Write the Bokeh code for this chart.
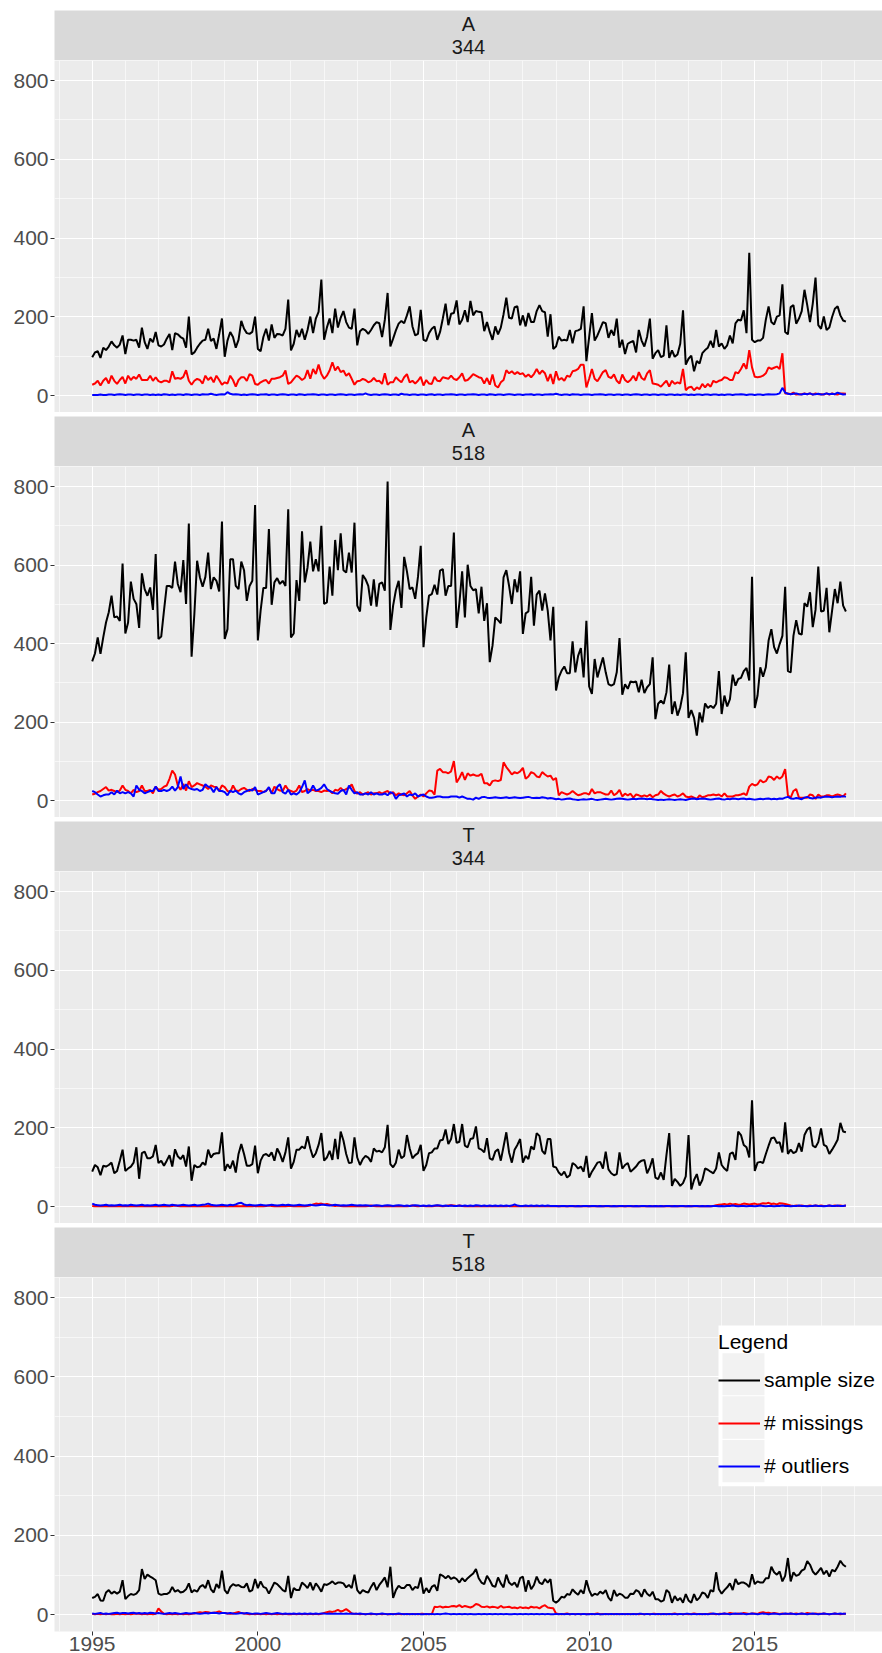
import numpy as np
from bokeh.plotting import figure
from bokeh.layouts import column
from bokeh.models import (Range1d, FixedTicker, Label, Legend, LegendItem,
                          BoxAnnotation, Spacer, Grid, LinearAxis)
from bokeh.embed import file_html
from bokeh.resources import INLINE

START_YEAR = 1995
FONT = "Liberation Sans"

# ---------------- data (monthly, starting Jan 1995) ----------------
facet_rows = ["A", "A", "T", "T"]
facet_ids = ["344", "518", "344", "518"]
series_labels = ["sample size", "# missings", "# outliers"]
x_tick_years = [1995, 2000, 2005, 2010, 2015]
y_ticks = [0, 200, 400, 600, 800]

a344_size = [
    98, 110, 113, 96, 122, 116, 125, 138, 128, 122, 130, 153,
    106, 142, 142, 140, 142, 122, 173, 136, 119, 145, 136, 162,
    128, 125, 130, 145, 157, 116, 159, 156, 149, 145, 122, 201,
    105, 110, 122, 132, 140, 142, 170, 139, 145, 119, 156, 196,
    99, 140, 162, 149, 122, 142, 190, 170, 159, 157, 162, 201,
    119, 113, 149, 170, 140, 181, 147, 157, 156, 153, 170, 244,
    115, 132, 167, 149, 170, 142, 167, 201, 159, 196, 213, 295,
    142, 173, 196, 159, 221, 173, 198, 215, 187, 173, 170, 221,
    128, 164, 170, 166, 157, 167, 179, 187, 184, 149, 193, 261,
    125, 145, 166, 183, 190, 184, 204, 227, 176, 153, 157, 218,
    142, 139, 159, 170, 176, 142, 162, 196, 234, 179, 208, 210,
    242, 181, 193, 217, 187, 241, 204, 215, 213,
    212, 164, 187, 162, 142, 176, 156, 173, 207, 249,
    198, 196, 225, 227, 179, 204, 176, 210, 187, 187,
    215, 230, 215, 212, 150, 207, 119, 125, 150, 140,
    142, 140, 167, 133, 164, 166, 170, 227, 88, 149,
    210, 140, 153, 170, 187, 184, 147, 167, 153, 196,
    122, 142, 106, 132, 136, 139, 110, 167, 140, 125,
    150, 196, 94, 108, 116, 98, 102, 179, 96, 115,
    99, 105, 132, 217, 79, 94, 102, 62, 88, 82,
    108, 116, 122, 139, 122, 167, 125, 133, 119, 128,
    153, 133, 184, 193, 191, 217, 159, 363, 142, 136,
    140, 140, 147, 193, 227, 187, 181, 201, 204, 283,
    162, 156, 225, 230, 183, 196, 215, 269, 230, 187,
    234, 300, 179, 170, 201, 167, 173, 200, 221, 227,
    204, 191, 188,
]
a344_missing = [
    28, 31, 38, 26, 38, 45, 31, 51, 38, 30, 40, 48,
    31, 51, 40, 48, 43, 54, 40, 40, 40, 51, 38, 47,
    37, 34, 38, 38, 34, 62, 43, 45, 43, 48, 65, 38,
    28, 38, 43, 40, 31, 51, 40, 47, 34, 51, 40, 28,
    34, 31, 51, 40, 23, 40, 47, 47, 38, 55, 51, 30,
    28, 34, 38, 40, 31, 43, 43, 45, 47, 51, 64, 30,
    34, 43, 51, 47, 40, 45, 65, 43, 68, 55, 79, 55,
    43, 51, 64, 85, 64, 74, 60, 64, 51, 57, 43, 28,
    37, 38, 43, 40, 34, 37, 45, 37, 38, 30, 57, 28,
    34, 34, 47, 40, 34, 47, 55, 34, 38, 31, 38, 48,
    26, 40, 31, 30, 48, 38, 37, 47, 45, 43, 51, 43,
    40, 47, 57, 38, 40, 47, 55, 51, 47,
    45, 31, 45, 28, 54, 26, 21, 34, 40, 65,
    57, 62, 55, 60, 55, 57, 48, 54, 47, 55,
    68, 55, 64, 57, 37, 55, 30, 62, 40, 45,
    38, 51, 48, 62, 64, 68, 79, 79, 21, 43,
    68, 43, 37, 48, 60, 65, 48, 45, 54, 38,
    31, 54, 40, 34, 40, 51, 38, 60, 45, 40,
    57, 65, 31, 30, 28, 23, 31, 38, 23, 38,
    30, 34, 31, 68, 14, 21, 23, 14, 21, 17,
    30, 21, 30, 23, 38, 34, 38, 40, 47, 45,
    40, 40, 60, 57, 68, 82, 68, 116, 72, 48,
    47, 48, 51, 57, 72, 68, 71, 74, 68, 108,
    6, 6, 4, 8, 3, 4, 4, 6, 4, 6,
    3, 6, 4, 4, 3, 6, 3, 6, 4, 3,
    6, 6, 5,
]
a344_outlier = [
    2, 2, 2, 3, 2, 2, 3, 3, 2, 3, 4, 3,
    2, 3, 3, 2, 3, 3, 2, 3, 3, 2, 3, 2,
    3, 2, 4, 3, 2, 3, 2, 3, 3, 2, 4, 3,
    2, 3, 3, 2, 4, 3, 3, 5, 3, 2, 3, 4,
    3, 9, 5, 3, 4, 3, 2, 3, 2, 3, 4, 3,
    2, 3, 3, 4, 2, 3, 3, 2, 3, 4, 3, 2,
    3, 3, 2, 4, 3, 2, 3, 3, 4, 3, 2, 3,
    3, 2, 3, 3, 2, 3, 4, 3, 2, 3, 3, 2,
    3, 4, 3, 6, 3, 2, 3, 3, 2, 3, 4, 3,
    2, 3, 3, 2, 5, 3, 3, 2, 3, 3, 2, 3,
    3, 2, 3, 4, 2, 3, 3, 2, 3, 3, 4, 3,
    2, 3, 3, 2, 3, 3, 4, 3, 2, 3, 3, 2,
    4, 3, 2, 3, 3, 2, 3, 4, 3, 2, 3, 3,
    2, 3, 3, 4, 2, 3, 3, 2, 3, 3, 4, 3,
    5, 3, 2, 3, 3, 2, 4, 3, 3, 2, 3, 3,
    3, 2, 3, 3, 4, 3, 2, 3, 3, 2, 3, 3,
    2, 3, 3, 2, 3, 4, 3, 2, 3, 3, 2, 3,
    3, 2, 3, 3, 2, 3, 3, 2, 3, 2, 3, 3,
    2, 3, 2, 3, 3, 2, 3, 3, 2, 3, 3, 2,
    3, 2, 3, 3, 2, 3, 3, 4, 3, 2, 3, 3,
    2, 3, 3, 2, 3, 4, 3, 3, 4, 6, 20, 8,
    5, 4, 5, 6, 4, 3, 5, 4, 6, 3, 4, 5,
    3, 4, 6, 4, 5, 4, 8, 5, 3, 4,
]

a518_size = [
    355, 375, 416, 374, 416, 454, 480, 522, 467, 469, 458, 604,
    426, 454, 558, 514, 501, 440, 579, 539, 522, 543, 486, 628,
    412, 418, 484, 547, 547, 542, 609, 552, 531, 613, 501, 706,
    367, 475, 611, 569, 545, 570, 632, 539, 569, 560, 533, 711,
    412, 437, 615, 615, 547, 539, 609, 587, 509, 547, 560, 753,
    408, 484, 542, 542, 692, 499, 556, 567, 552, 560, 547, 742,
    416, 426, 562, 509, 686, 556, 594, 660, 584, 615, 584, 700,
    501, 505, 596, 522, 664, 587, 681, 587, 581, 632, 581, 708,
    497, 482, 575, 564, 547, 497, 564, 494, 552, 556, 535, 813,
    435, 497, 536, 560, 491, 621, 584, 539, 543, 514, 570, 649,
    391, 467, 522, 526, 550, 525, 586, 590, 522, 547, 547, 683,
    440, 503, 584, 467, 601, 547, 536, 539, 477,
    545, 458, 503, 353, 395, 467, 460, 452, 569, 587,
    547, 501, 564, 531, 584, 425, 477, 482, 570, 446,
    525, 535, 484, 528, 484, 408, 494, 281, 314, 331,
    342, 325, 325, 406, 327, 369, 389, 314, 458, 291,
    272, 361, 314, 340, 365, 327, 297, 293, 297, 327,
    414, 270, 297, 285, 304, 302, 304, 276, 308, 274,
    289, 297, 365, 208, 247, 255, 247, 276, 347, 221,
    253, 217, 238, 274, 378, 211, 231, 211, 166, 225,
    200, 248, 236, 242, 236, 247, 330, 221, 268, 240,
    259, 321, 293, 310, 313, 330, 338, 306, 570, 236,
    268, 340, 316, 340, 408, 437, 391, 375, 399, 420,
    545, 330, 327, 420, 460, 426, 423, 503, 494, 531,
    442, 486, 596, 482, 484, 542, 429, 484, 539, 503,
    558, 497, 482,
]
a518_missing = [
    16, 18, 22, 25, 30, 35, 26, 28, 25, 22, 26, 39,
    28, 25, 19, 28, 22, 25, 39, 25, 25, 28, 19, 36,
    28, 30, 36, 39, 56, 77, 67, 39, 28, 43, 26, 50,
    35, 39, 45, 42, 39, 36, 30, 39, 36, 35, 25, 39,
    35, 25, 22, 39, 26, 25, 30, 33, 28, 25, 30, 28,
    25, 25, 22, 26, 33, 19, 36, 30, 26, 25, 39, 28,
    25, 22, 26, 39, 22, 25, 30, 26, 28, 25, 25,
    22, 26, 25, 26, 19, 28, 26, 33, 26, 30, 33,
    42, 25, 18, 22, 16, 19, 22, 16, 19, 19, 22,
    18, 22, 25, 18, 22, 14, 19, 16, 14, 19, 25,
    14, 5, 11, 16, 11, 19, 26, 25, 16, 77, 81, 73,
    73, 70, 75, 101, 47, 58, 73, 53, 70, 64, 67, 64, 64,
    69, 45, 45, 39, 50, 52, 50, 53, 98, 86,
    77, 67, 73, 70, 75, 84, 56, 62, 73, 70,
    62, 60, 73, 67, 62, 64, 53, 58, 14, 22,
    19, 16, 19, 25, 19, 14, 16, 19, 19, 16,
    30, 19, 22, 22, 19, 16, 16, 26, 14,
    19, 28, 11, 18, 14, 18, 8, 16, 14,
    11, 14, 11, 16, 9, 14, 16, 25, 18,
    14, 11, 14, 16, 11, 14, 19, 11, 9,
    11, 8, 5, 14, 9, 11, 14, 14, 16, 14,
    16, 11, 19, 11, 11, 11, 14, 14, 16, 19,
    14, 36, 43, 39, 42, 53, 47, 50, 62, 60,
    53, 62, 56, 62, 81, 14, 8, 25, 30, 8,
    8, 8, 8, 16, 14, 5, 16, 11, 11, 14,
    14, 11, 14, 16, 14, 11, 19,
]
a518_outlier = [
    25, 22, 16, 11, 14, 16, 16, 22, 16, 26, 19, 22,
    19, 22, 19, 11, 39, 28, 25, 19, 22, 25, 25, 36,
    25, 25, 28, 25, 28, 36, 26, 35, 62, 30, 42, 33,
    30, 28, 30, 25, 28, 42, 36, 33, 22, 35, 25, 25,
    22, 14, 26, 22, 26, 19, 16, 22, 25, 28, 26, 35,
    16, 19, 22, 25, 35, 19, 19, 35, 42, 22, 18, 28,
    16, 19, 16, 22, 35, 52, 19, 25, 39, 26, 28, 33,
    42, 30, 25, 22, 19, 18, 25, 28, 16, 39, 28, 19,
    22, 16, 16, 19, 16, 22, 16, 19, 16, 16, 19, 14,
    22, 19, 5, 14, 16, 19, 11, 16, 14, 19, 11, 14,
    16, 11, 8, 8, 9, 11, 11, 9, 9, 9, 11, 11,
    11, 8, 11, 8, 5, 5, 3, 8, 5,
    9, 10, 8,
    7, 8, 9, 8, 7, 8, 9, 7, 8, 9, 8, 7,
    8, 9, 10, 8, 7, 8, 7, 9, 8, 6, 7, 6,
    4, 5, 3, 4, 5, 6, 4, 3, 2, 3, 4, 3,
    4, 5, 3, 2, 3, 4, 5, 4, 3, 4, 5, 6,
    5, 4, 3, 4, 5, 4, 5, 6, 5, 4, 5, 4,
    3, 2, 3, 2, 3, 4, 3, 2, 3, 4, 3, 2,
    4, 5, 6, 4, 5, 6, 5, 4, 3, 4, 5, 6,
    4, 3, 5, 4, 6, 5, 4, 5, 6, 4, 5, 4,
    3, 4, 5, 4, 5, 6, 4, 5, 4, 6, 5, 8,
    10, 6, 5, 7, 6, 4, 8, 10, 7, 6, 8, 9,
    8, 10, 11, 10, 9, 10, 11, 10, 12, 10,
]

t344_size = [
    89, 106, 100, 80, 104, 102, 106, 112, 85, 91, 117, 145,
    91, 97, 102, 112, 151, 71, 136, 140, 123, 123, 128, 157,
    111, 117, 104, 117, 131, 102, 146, 128, 121, 131, 102, 153,
    66, 106, 100, 102, 112, 106, 145, 125, 134, 136, 136, 189,
    91, 108, 97, 117, 87, 134, 159, 134, 104, 104, 108, 155,
    85, 117, 131, 134, 128, 138, 117, 148, 134, 114, 138, 176,
    97, 114, 145, 145, 153, 148, 179, 148, 125, 136, 157, 187,
    117, 125, 142, 119, 172, 121, 191, 168, 134, 111, 112, 176,
    125, 106, 121, 129, 125, 114, 148, 140, 142, 138, 151, 208,
    108, 100, 112, 145, 123, 129, 182, 148, 123, 131, 136, 157,
    91, 106, 136, 138, 148, 148, 168, 170, 196, 159, 172, 210,
    162, 165, 210, 155, 151, 172, 174, 204, 148, 145, 138, 174,
    123, 119, 140, 146, 117, 153, 189, 138, 112, 145, 157, 172,
    112, 129, 121, 153, 145, 187, 180, 142, 134, 172, 172, 102,
    100, 87, 80, 89, 74, 80, 111, 106, 97, 102, 89, 129,
    74, 89, 100, 112, 114, 97, 140, 95, 85, 80, 83, 138,
    97, 106, 111, 89, 95, 102, 112, 117, 119, 85, 100, 123,
    74, 70, 87, 68, 131, 187, 53, 71, 63, 53, 60, 77,
    182, 44, 68, 83, 54, 68, 97, 94, 89, 85, 97, 138,
    106, 97, 91, 134, 138, 119, 191, 182, 157, 151, 125, 270,
    91, 112, 114, 111, 134, 155, 174, 176, 162, 164, 138, 214,
    134, 145, 136, 140, 162, 140, 182, 196, 202, 155, 151, 164,
    199, 157, 153, 134, 145, 157, 170, 213, 191, 189,
]
t344_missing = [
    2, 1, 2, 1, 2, 1, 1, 2, 1, 2, 1, 2,
    1, 2, 1, 1, 2, 1, 2, 1, 1, 2, 1, 1,
    2, 1, 1, 2, 1, 2, 3, 2, 1, 2, 1, 2,
    1, 2, 1, 2, 1, 1, 2, 1, 2, 1, 2, 1,
    2, 1, 2, 1, 2, 1, 1, 2, 1, 2, 1, 2,
    1, 2, 1, 2, 3, 2, 1, 2, 1, 2, 1, 2,
    2, 1, 2, 1, 2, 1, 2, 3, 6, 8, 7, 8,
    6, 7, 5, 3, 2, 3, 2, 1, 2, 1, 2, 1,
    2, 1, 2, 1, 2, 3, 2, 1, 2, 1, 2, 1,
    1, 2, 1, 2, 1, 2, 1, 2, 3, 2, 1, 2,
    2, 1, 2, 1, 2, 3, 2, 1, 2, 3, 4, 3,
    2, 3, 2, 1, 2, 1, 2, 1, 2, 1, 2, 1,
    1, 2, 1, 2, 1, 2, 1, 2, 1, 1, 2, 1,
    2, 1, 2, 1, 2, 1, 2, 1, 2, 1, 2, 1,
    1, 2, 1, 2, 1, 1, 2, 1, 2, 1, 2, 1,
    2, 1, 2, 1, 2, 1, 2, 1, 1, 2, 1, 2,
    1, 2, 1, 2, 1, 2, 1, 1, 2, 1, 2, 1,
    2, 1, 2, 1, 2, 1, 2, 1, 2, 1, 2, 1,
    1, 2, 1, 2, 1, 2, 1, 2, 1, 2, 4, 5,
    6, 7, 5, 8, 6, 7, 5, 6, 8, 7, 6, 7,
    8, 6, 7, 9, 8, 10, 7, 8, 6, 9, 8, 7,
    5, 3, 2, 3, 2, 3, 2, 2, 3, 2, 3, 2,
    3, 2, 2, 3, 2, 3, 2, 3, 2, 3,
]
t344_outlier = [
    8, 5, 4, 3, 4, 5, 3, 4, 3, 4, 5, 3,
    4, 3, 5, 4, 3, 4, 5, 3, 4, 3, 4, 5,
    3, 4, 5, 4, 3, 5, 4, 3, 4, 5, 4, 3,
    4, 5, 3, 4, 5, 6, 8, 5, 4, 3, 4, 5,
    4, 3, 5, 4, 6, 9, 10, 6, 4, 5, 4, 3,
    4, 5, 4, 3, 4, 5, 4, 3, 4, 5, 4, 5,
    4, 3, 4, 5, 4, 3, 4, 5, 4, 3, 4, 5,
    5, 4, 3, 4, 5, 4, 3, 4, 3, 4, 5, 4,
    3, 4, 3, 4, 3, 2, 3, 4, 3, 2, 3, 4,
    3, 2, 3, 4, 3, 2, 3, 2, 3, 4, 3, 2,
    3, 2, 3, 2, 3, 4, 3, 2, 3, 2, 3, 2,
    2, 3, 2, 3, 2, 3, 2, 4, 3, 2, 3, 2,
    3, 2, 3, 2, 3, 2, 3, 2, 3, 6, 3, 2,
    2, 3, 2, 3, 2, 3, 2, 3, 2, 3, 2, 2,
    2, 1, 2, 2, 1, 2, 2, 1, 2, 1, 2, 2,
    1, 2, 2, 1, 2, 1, 2, 2, 1, 2, 1, 2,
    2, 1, 2, 2, 1, 2, 1, 2, 2, 1, 2, 1,
    2, 1, 2, 1, 2, 2, 1, 2, 1, 2, 2, 1,
    2, 1, 2, 2, 1, 2, 1, 2, 1, 2, 2, 1,
    2, 1, 2, 2, 3, 2, 1, 2, 2, 1, 2, 2,
    1, 2, 3, 2, 1, 2, 2, 1, 2, 2, 3, 2,
    2, 1, 2, 2, 3, 2, 2, 1, 2, 2, 3, 2,
    2, 1, 2, 3, 2, 2, 3, 2, 2, 3,
]

t518_size = [
    42, 45, 52, 36, 35, 56, 62, 53, 58, 53, 58, 87,
    39, 47, 52, 50, 53, 62, 115, 90, 101, 96, 92, 87,
    53, 50, 52, 52, 56, 70, 58, 62, 56, 58, 64,
    79, 56, 62, 58, 70, 75, 67, 87, 64, 56, 77, 67,
    111, 62, 53, 70, 77, 73, 75, 70, 69, 79, 58, 62,
    90, 67, 84, 70, 67, 53, 67, 81, 77, 70, 62, 58,
    98, 42, 67, 62, 62, 81, 75, 67, 81, 62, 79, 70,
    58, 77, 75, 79, 84, 77, 81, 81, 79, 69, 75, 67,
    101, 62, 53, 62, 58, 56, 70, 81, 62, 75, 84, 94,
    69, 121, 42, 62, 73, 67, 67, 75, 75, 62, 70, 67,
    94, 53, 67, 56, 70, 75, 60, 102, 98, 92, 98, 90,
    94, 90, 81, 92, 84, 92, 98, 104, 115, 92, 81, 77,
    98, 87, 73, 70, 94, 79, 69, 101, 81, 75, 81,
    69, 92, 96, 58, 87, 64, 75, 96, 81, 77, 90, 81,
    90, 35, 30, 36, 45, 43, 52, 50, 64, 56, 50, 62,
    53, 87, 62, 47, 53, 50, 58, 53, 62, 43, 35, 62,
    47, 53, 50, 43, 43, 53, 52, 62, 58, 45, 64, 53,
    47, 58, 39, 39, 33, 36, 62, 56, 30, 47, 36, 42,
    30, 52, 36, 30, 52, 36, 43, 56, 53, 42, 62, 58,
    107, 64, 53, 62, 69, 79, 62, 90, 77, 81, 81, 77,
    70, 102, 77, 84, 81, 81, 92, 92, 121, 107, 101, 109,
    84, 98, 143, 84, 107, 98, 101, 111, 115, 135, 126, 109,
    101, 109, 118, 102, 111, 96, 113, 109, 121, 136, 126, 121,
]
t518_missing = [
    2, 1, 2, 1, 2, 1, 2, 1, 1, 2, 1, 2,
    1, 2, 1, 2, 3, 2, 1, 2, 1, 2, 1, 2,
    16, 8, 2, 1, 2, 1, 2, 1, 2, 1, 2, 1,
    2, 3, 5, 6, 5, 7, 6, 4, 5, 6, 8, 5,
    4, 3, 2, 3, 5, 7, 4, 3, 2, 1, 2, 1,
    2, 1, 2, 1, 2, 1, 2, 1, 2, 1, 2, 1,
    1, 2, 1, 2, 1, 2, 1, 2, 1, 2, 1, 2,
    4, 6, 8, 7, 9, 12, 8, 10, 14, 9, 3, 2,
    2, 1, 2, 1, 2, 1, 2, 1, 2, 1, 2, 1,
    1, 2, 1, 2, 1, 2, 1, 2, 1, 2, 1, 2,
    2, 1, 2, 1, 20, 19, 21, 18, 20, 19, 21, 22,
    20, 24, 19, 22, 20, 18, 21, 27, 25, 20, 19, 21,
    18, 20, 19, 17, 22, 18, 19, 20, 17, 18, 16, 19,
    17, 18, 16, 20, 18, 19, 16, 21, 24, 18, 17, 16,
    3, 2, 1, 2, 3, 1, 2, 1, 2, 1, 2, 1,
    2, 1, 2, 3, 1, 2, 1, 2, 1, 2, 1, 2,
    1, 2, 1, 2, 1, 2, 1, 2, 1, 2, 1, 2,
    2, 1, 2, 1, 2, 1, 2, 3, 1, 2, 1, 2,
    1, 2, 3, 2, 1, 2, 1, 2, 3, 2, 1, 2,
    2, 3, 2, 4, 3, 2, 3, 2, 4, 3, 2, 3,
    3, 2, 5, 6, 4, 5, 3, 4, 3, 2, 3, 2,
    2, 3, 2, 3, 2, 3, 2, 4, 3, 2, 3, 2,
    2, 3, 2, 1, 2, 3, 2, 1, 2, 2,
]
t518_outlier = [
    3, 2, 3, 4, 2, 3, 2, 3, 4, 5, 3, 4,
    4, 3, 4, 5, 3, 4, 3, 4, 3, 5, 4, 3,
    4, 3, 2, 3, 4, 3, 4, 3, 2, 3, 4, 3,
    3, 4, 3, 2, 3, 4, 3, 4, 5, 4, 3, 4,
    4, 3, 4, 3, 2, 3, 4, 3, 4, 3, 2, 3,
    3, 2, 3, 4, 3, 2, 3, 4, 3, 2, 3, 2,
    2, 3, 2, 3, 2, 3, 2, 3, 2, 3, 2, 3,
    3, 2, 3, 2, 3, 2, 3, 2, 3, 2, 3, 2,
    2, 3, 2, 1, 2, 3, 2, 1, 2, 3, 2, 1,
    2, 1, 2, 3, 2, 1, 2, 1, 2, 1, 2, 1,
    1, 2, 1, 2, 1, 2, 1, 2, 3, 2, 1, 2,
    1, 2, 1, 2, 1, 2, 1, 1, 2, 1, 2, 1,
    2, 1, 2, 1, 2, 1, 2, 1, 1, 2, 1, 2,
    1, 2, 1, 2, 1, 2, 1, 2, 1, 2, 1, 1,
    2, 1, 2, 1, 2, 1, 2, 1, 2, 1, 2, 1,
    1, 2, 1, 2, 1, 1, 2, 1, 2, 1, 2, 1,
    2, 1, 2, 1, 2, 1, 2, 2, 1, 2, 1, 2,
    1, 2, 1, 2, 1, 2, 1, 2, 1, 2, 1, 2,
    2, 1, 2, 1, 2, 1, 2, 1, 2, 3, 2, 1,
    2, 3, 2, 1, 2, 3, 2, 3, 2, 1, 2, 3,
    2, 1, 2, 3, 2, 1, 2, 3, 2, 1, 2, 3,
    2, 3, 2, 1, 2, 3, 2, 1, 2, 3, 2, 1,
    2, 3, 2, 1, 2, 3, 2, 3, 2, 2,
]

panels = [
    (a344_size, a344_missing, a344_outlier),
    (a518_size, a518_missing, a518_outlier),
    (t344_size, t344_missing, t344_outlier),
    (t518_size, t518_missing, t518_outlier),
]
series_colors = ["black", "#FF0000", "#0000FF"]

# ---------------- layout ----------------
W = 882
LEFT = 54
STRIP_H = 50
PANEL_H = [352, 351, 352, 376]
GAP = 4
TOP = 10

x_range = Range1d(1993.862, 2018.855)
Y_LO, Y_HI = -42.5, 851

x_major = FixedTicker(ticks=x_tick_years,
                      minor_ticks=[y for y in range(1994, 2019) if y not in x_tick_years])
y_major = FixedTicker(ticks=y_ticks, minor_ticks=[100, 300, 500, 700])


def months(series):
    return [START_YEAR + i / 12.0 for i in range(len(series))]


def make_strip(line1, line2):
    s = figure(width=W, height=STRIP_H, x_range=x_range, y_range=Range1d(0, STRIP_H),
               x_axis_type=None, y_axis_type=None, toolbar_location=None,
               output_backend="svg", min_border_left=LEFT, min_border_right=0,
               min_border_top=0, min_border_bottom=0)
    s.background_fill_color = "#D9D9D9"
    s.border_fill_color = "white"
    s.outline_line_color = None
    s.grid.visible = False
    xm = (x_range.start + x_range.end) / 2.0
    for txt, yy in ((line1, 36.5), (line2, 13.5)):
        s.add_layout(Label(x=xm, y=yy, text=txt, text_align="center",
                           text_baseline="middle", text_font=FONT,
                           text_font_size="20px", text_color="#1A1A1A"))
    return s


def make_panel(idx, series, height, bottom_axis):
    p = figure(width=W, height=height, x_range=x_range, y_range=Range1d(Y_LO, Y_HI),
               x_axis_type=None, toolbar_location=None, output_backend="svg",
               min_border_left=LEFT, min_border_right=0, min_border_top=0,
               min_border_bottom=0)
    p.background_fill_color = "#EBEBEB"
    p.border_fill_color = "white"
    p.outline_line_color = None

    p.yaxis.ticker = y_major
    p.ygrid.ticker = y_major
    for ax in p.yaxis:
        ax.axis_line_color = None
        ax.major_tick_line_color = "#333333"
        ax.major_tick_out = 4
        ax.major_tick_in = 0
        ax.minor_tick_line_color = None
        ax.major_label_text_font = FONT
        ax.major_label_text_font_size = "21px"
        ax.major_label_text_color = "#4D4D4D"
        ax.major_label_standoff = 2
    p.ygrid.grid_line_color = "white"
    p.ygrid.grid_line_width = 1.1
    p.ygrid.minor_grid_line_color = "white"
    p.ygrid.minor_grid_line_width = 0.6

    xg = Grid(dimension=0, ticker=x_major, grid_line_color="white", grid_line_width=1.1,
              minor_grid_line_color="white", minor_grid_line_width=0.6)
    p.add_layout(xg)

    if bottom_axis:
        xa = LinearAxis(ticker=x_major)
        xa.axis_line_color = None
        xa.major_tick_line_color = "#333333"
        xa.major_tick_out = 4
        xa.major_tick_in = 0
        xa.minor_tick_line_color = None
        xa.major_label_text_font = FONT
        xa.major_label_text_font_size = "21px"
        xa.major_label_text_color = "#4D4D4D"
        xa.major_label_standoff = 1
        p.add_layout(xa, "below")

    rends = []
    for vals, col in zip(series, series_colors):
        r = p.line(months(vals), vals, line_color=col, line_width=2.0)
        rends.append(r)
    return p, rends


# legend box geometry (data units of the last panel)
LEG_X0, LEG_X1 = 2013.904, 2019.5
KEY_X0, KEY_X1 = 2014.025, 2015.293
LEG_Y0, LEG_Y1 = 324.0, 730.0
KEY_ROWS = [(554.0, 660.0), (444.0, 551.0), (334.0, 441.0)]

children = [Spacer(width=W, height=TOP)]
for k in range(4):
    children.append(make_strip(facet_rows[k], facet_ids[k]))
    p, rends = make_panel(k, panels[k], PANEL_H[k], k == 3)
    if k == 3:
        p.add_layout(BoxAnnotation(left=LEG_X0, right=LEG_X1, bottom=LEG_Y0, top=LEG_Y1,
                                   fill_color="white", fill_alpha=1.0, line_color=None))
        for (b, t) in KEY_ROWS:
            p.add_layout(BoxAnnotation(left=KEY_X0, right=KEY_X1, bottom=b, top=t,
                                       fill_color="#F2F2F2", fill_alpha=1.0, line_color=None))
        legend = Legend(
            items=[LegendItem(label=lab, renderers=[r]) for lab, r in zip(series_labels, rends)],
            location=(664, 144), title="Legend",
            title_text_font=FONT, title_text_font_size="21px", title_text_font_style="normal",
            title_text_color="black", title_standoff=5,
            label_text_font=FONT, label_text_font_size="21px", label_text_color="black",
            glyph_width=42, glyph_height=42, label_standoff=4, spacing=1, padding=4,
            margin=0, border_line_color=None, background_fill_alpha=0.0)
        p.add_layout(legend)
    children.append(p)
    if k < 3:
        children.append(Spacer(width=W, height=GAP))

layout = column(*children, spacing=0)

with open("out.html", "w") as f:
    f.write(file_html(layout, INLINE))
